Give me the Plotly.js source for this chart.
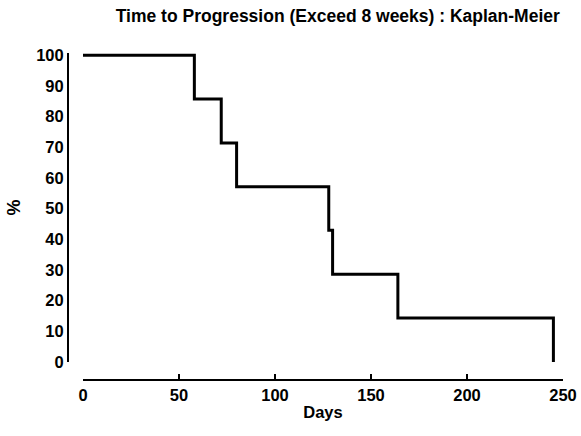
<!DOCTYPE html>
<html><head><meta charset="utf-8">
<script src="https://cdn.plot.ly/plotly-3.0.1.min.js"></script>
<style>body{margin:0;background:#fff}#c{width:581px;height:436px}</style>
</head><body><div id="c"></div>
<script>
const days = [0, 58, 72, 80, 128, 130, 164, 245, 245];
const survival = [100, 85.7, 71.4, 57.1, 42.9, 28.6, 14.3, 14.3, 0];
const xTicks = [0, 50, 100, 150, 200, 250];
const yTicks = [0, 10, 20, 30, 40, 50, 60, 70, 80, 90, 100];
const F = "Liberation Sans, Arial, sans-serif";
Plotly.newPlot('c', [{
  x: days, y: survival, type: 'scatter', mode: 'lines',
  line: {shape: 'hv', color: '#000', width: 3}, hoverinfo: 'none'
}], {
  width: 581, height: 436,
  margin: {l: 68, r: 18, t: 53, b: 56},
  paper_bgcolor: '#fff', plot_bgcolor: '#fff',
  showlegend: false,
  title: {text: 'Time to Progression (Exceed 8 weeks) : Kaplan-Meier', x: 0.545, xanchor: 'center', xref: 'paper',
          y: 0.963, yanchor: 'middle', font: {family: F, size: 17.5, weight: 'bold', color: '#000'}},
  xaxis: {range: [0, 250], domain: [0.0303, 1], anchor: 'free', position: 0,
          tickvals: xTicks, ticktext: xTicks.map(String), ticks: 'inside', ticklen: 5, tickwidth: 2, tickcolor: '#000',
          showline: true, linecolor: '#000', linewidth: 2, showgrid: false, zeroline: false,
          tickfont: {family: F, size: 16.5, weight: 'bold', color: '#000'},
          title: {text: 'Days', font: {family: F, size: 16.5, weight: 'bold', color: '#000'}, standoff: 3}},
  yaxis: {range: [0, 100.7], domain: [0.0551, 1], anchor: 'free', position: 0,
          tickvals: yTicks, ticktext: yTicks.map(String), ticks: '',
          showline: true, linecolor: '#000', linewidth: 2, showgrid: false, zeroline: false,
          tickfont: {family: F, size: 16.5, weight: 'bold', color: '#000'},
          title: {text: '%', font: {family: F, size: 18, weight: 'bold', color: '#000'}, standoff: 10}}
}, {staticPlot: true});
</script></body></html>
